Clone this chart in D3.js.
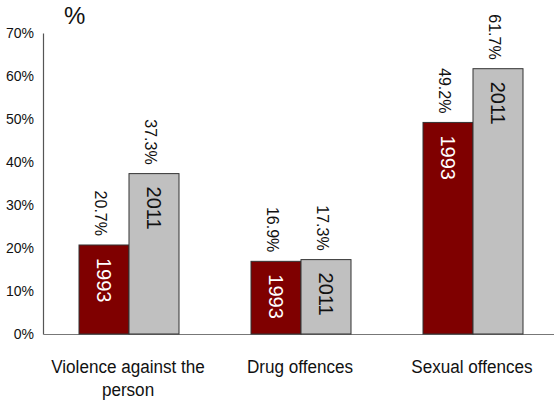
<!DOCTYPE html>
<html>
<head>
<meta charset="utf-8">
<script src="https://cdn.jsdelivr.net/npm/d3@7"></script>
<style>
body{margin:0;background:#fff;}
text{font-family:"Liberation Sans",Arial,sans-serif;}
</style>
</head>
<body>
<svg id="chart" width="554" height="402"></svg>
<script>
const categories = ["Violence against the person", "Drug offences", "Sexual offences"];
const categoryLines = [["Violence against the", "person"], ["Drug offences"], ["Sexual offences"]];
const seriesNames = ["1993", "2011"];
const values1993 = [20.7, 16.9, 49.2];
const values2011 = [37.3, 17.3, 61.7];
const yTicks = [0, 10, 20, 30, 40, 50, 60, 70];
const colors = ["#7f0000", "#c0c0c0"];
const textColors = ["#ffffff", "#111111"];

const series = [values1993, values2011];
const svg = d3.select("#chart");
const x0 = d3.scaleBand().domain(categories).range([43, 559]).paddingInner(0).paddingOuter(0);
const x1 = d3.scaleBand().domain(seriesNames).range([0, x0.bandwidth()]).paddingInner(0).paddingOuter(0.72);
const y = d3.scaleLinear().domain([0, 70]).range([334, 33]);

// y tick labels
const yAxis = d3.axisLeft(y).tickValues(yTicks).tickSize(0).tickPadding(9).tickFormat(d => d + "%");
const gy = svg.append("g").attr("transform", "translate(43,0)").call(yAxis);
gy.select(".domain").attr("stroke", "#555").attr("stroke-width", 1.2);
gy.selectAll("text").attr("font-size", 14).attr("fill", "#111").attr("font-family", "Liberation Sans, Arial, sans-serif");

// baseline
const xAxis = d3.axisBottom(x0).tickSize(0).tickFormat("");
const gx = svg.append("g").attr("transform", "translate(0,334)").call(xAxis);
gx.select(".domain").attr("stroke", "#777").attr("stroke-width", 1.2);

// category labels
categories.forEach((c, i) => {
  const cx = x0(c) + x0.bandwidth() / 2 - 1;
  const t = svg.append("text").attr("text-anchor", "middle").attr("font-size", 19).attr("fill", "#111")
    .attr("transform", `translate(${cx},0) scale(0.9,1)`);
  categoryLines[i].forEach((line, j) => {
    t.append("tspan").attr("x", 0).attr("y", 373 + j * 23).text(line);
  });
});

// bars
seriesNames.forEach((s, si) => {
  categories.forEach((c, ci) => {
    const v = series[si][ci];
    const bx = x0(c) + x1(s);
    const bw = x1.bandwidth();
    svg.append("rect").attr("x", bx).attr("y", y(v)).attr("width", bw).attr("height", y(0) - y(v))
      .attr("fill", colors[si]).attr("stroke", "#333").attr("stroke-width", 1);
    // value label above, rotated
    const lx = bx + bw / 2 - 4;
    const ly = y(v) - 9;
    svg.append("text").attr("transform", `translate(${lx},${ly}) rotate(90)`)
      .attr("text-anchor", "end").attr("dominant-baseline", "central")
      .attr("font-size", 16).attr("fill", "#111").text(v.toFixed(1) + "%");
    // series label inside
    svg.append("text").attr("transform", `translate(${bx + bw / 2},${y(v) + 13}) rotate(90)`)
      .attr("text-anchor", "start").attr("dominant-baseline", "central")
      .attr("font-size", 20).attr("fill", textColors[si]).text(s);
  });
});

// unit label
svg.append("text").attr("x", 64).attr("y", 24).attr("font-size", 24).attr("fill", "#111").text("%");
</script>
</body>
</html>
